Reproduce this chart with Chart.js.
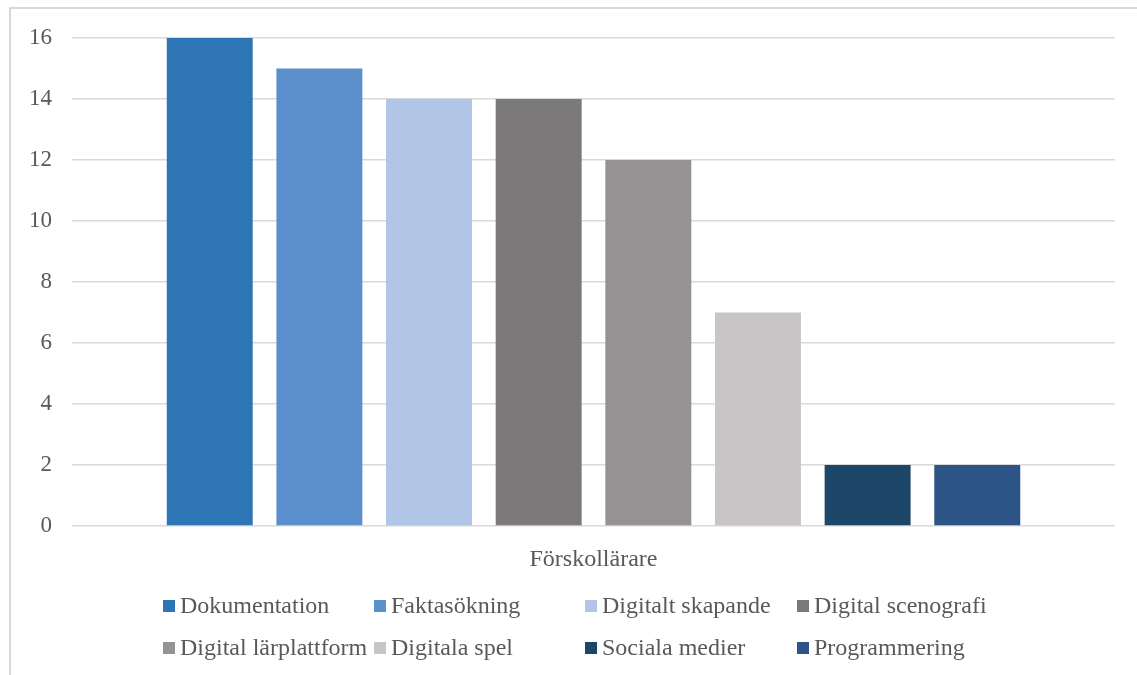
<!DOCTYPE html>
<html>
<head>
<meta charset="utf-8">
<script src="https://cdn.jsdelivr.net/npm/chart.js@4.4.1/dist/chart.umd.min.js"></script>
<style>
    html, body { margin: 0; padding: 0; background: #fff; overflow: hidden; }
    #wrap { position: relative; width: 1137px; height: 675px; }
    #frame {
        position: absolute; left: 9px; top: 7px; width: 1200px; height: 800px;
        border: 2px solid #d9d9d9; box-sizing: border-box; pointer-events: none;
    }
    canvas { position: absolute; left: 0; top: 0; }
</style>
</head>
<body>
<div id="wrap">
    <canvas id="usageChart" width="1137" height="675"></canvas>
    <div id="frame"></div>
</div>
<script>
const categories = ["Förskollärare"];
const seriesNames = [
    "Dokumentation", "Faktasökning", "Digitalt skapande", "Digital scenografi",
    "Digital lärplattform", "Digitala spel", "Sociala medier", "Programmering"
];
const seriesValues = [16, 15, 14, 14, 12, 7, 2, 2];
const seriesColors = [
    "#2e75b6", "#5b8fcb", "#b1c5e7", "#7b797a",
    "#959293", "#c8c5c6", "#1d4669", "#2c5486"
];
const yTicks = [0, 2, 4, 6, 8, 10, 12, 14, 16];

const FONT = "'Liberation Serif', 'Times New Roman', serif";
const TEXT_COLOR = "#595959";

/* ---------- LEGEND (grid of 4 columns under the axis) ---------- */
const gridLegend = {
    id: "gridLegend",
    afterDraw(chart) {
        const ctx = chart.ctx;
        const cols = [163, 374, 585, 797];
        const rows = [606, 648];
        const box = 12;
        ctx.save();
        ctx.font = "24px " + FONT;
        ctx.textBaseline = "middle";
        ctx.textAlign = "left";
        let prevEnd = 0;
        chart.data.datasets.forEach((ds, i) => {
            const r = Math.floor(i / 4), c = i % 4;
            let x = cols[c];
            if (c > 0) x = Math.max(x, prevEnd + 4);
            const y = rows[r];
            ctx.fillStyle = ds.backgroundColor;
            ctx.fillRect(x, y - box / 2, box, box);
            ctx.fillStyle = TEXT_COLOR;
            ctx.fillText(ds.label, x + box + 5, y + 1);
            prevEnd = x + box + 5 + ctx.measureText(ds.label).width;
        });
        ctx.restore();
    }
};

const datasets = seriesNames.map((name, i) => ({
    label: name,
    data: [seriesValues[i]],
    backgroundColor: seriesColors[i],
    borderWidth: 0,
    categoryPercentage: 0.841,
    barPercentage: 0.784
}));

new Chart(document.getElementById("usageChart").getContext("2d"), {
    type: "bar",
    data: { labels: categories, datasets: datasets },
    options: {
        responsive: false,
        animation: false,
        layout: { padding: { left: 10, top: 38, right: 22, bottom: 0 } },
        plugins: {
            legend: { display: false },
            tooltip: { enabled: false }
        },
        scales: {
            x: {
                grid: { display: false },
                border: { display: false },
                ticks: {
                    color: TEXT_COLOR,
                    font: { family: FONT, size: 24 },
                    padding: 11
                },
                afterFit(scale) { scale.height = 149; }
            },
            y: {
                min: 0,
                max: 16,
                afterBuildTicks(scale) {
                    scale.ticks = yTicks.map(v => ({ value: v }));
                },
                grid: { color: "#d9d9d9", lineWidth: 1.5, drawTicks: false },
                border: { display: false },
                ticks: {
                    color: TEXT_COLOR,
                    font: { family: FONT, size: 23 },
                    padding: 20
                },
                afterFit(scale) { scale.width = 62; }
            }
        }
    },
    plugins: [gridLegend]
});
</script>
</body>
</html>
